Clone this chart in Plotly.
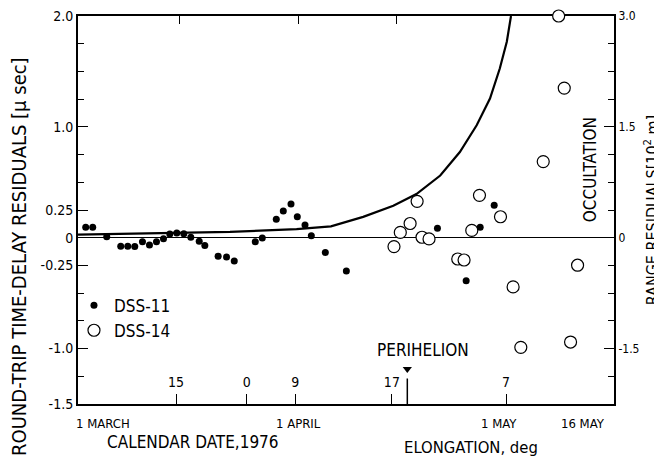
import plotly.graph_objects as go

# ---------------- data (x = days after 1 March 1976) ----------------
dss11_day = [0.6, 1.6, 3.6, 5.6, 6.6, 7.6, 8.7, 9.7, 10.7, 11.7, 12.6, 13.6, 14.6,
             15.6, 16.8, 17.6, 19.5, 20.7, 21.8, 24.8, 25.8, 27.8, 28.8, 29.9,
             30.8, 31.9, 32.8, 34.8, 37.8, 50.8, 54.9, 56.9, 58.9]
dss11_resid = [0.095, 0.095, 0.009, -0.077, -0.077, -0.080, -0.037, -0.066, -0.036,
               -0.009, 0.034, 0.043, 0.035, 0.005, -0.033, -0.070, -0.168, -0.174,
               -0.209, -0.037, -0.003, 0.167, 0.242, 0.303, 0.190, 0.115, 0.018,
               -0.134, -0.300, 0.086, -0.388, 0.094, 0.293]

dss14_day = [44.6, 45.5, 46.9, 47.9, 48.6, 49.6, 53.7, 54.6, 55.7, 56.8, 59.8,
             61.6, 62.7, 65.9, 68.1, 68.9, 69.8, 70.8]
dss14_resid = [-0.080, 0.048, 0.128, 0.328, 0.004, -0.011, -0.192, -0.201, 0.066,
               0.382, 0.189, -0.444, -0.989, 0.687, 2.0, 1.35, -0.941, -0.248]

model_day = [-0.5, 21.2, 30.7, 35.6, 40.2, 42.6, 44.5, 47.8, 51.2, 54.0, 56.4,
             58.3, 59.7, 60.7, 61.3]
model_resid = [0.027, 0.052, 0.078, 0.103, 0.188, 0.242, 0.288, 0.394, 0.561,
               0.773, 1.014, 1.256, 1.526, 1.768, 2.0]

left_tick_vals = [2.0, 1.0, 0.25, 0, -0.25, -1.0, -1.5]
left_tick_text = ["2.0", "1.0", "0.25", "0", "-0.25", "-1.0", "-1.5"]
left_minor_vals = [1.75, 1.5, 1.25, 0.75, 0.5, -0.5, -0.75, -1.25]
right_tick_vals = [3.0, 1.5, 0, -1.5]
right_tick_text = ["3.0", "1.5", "0", "-1.5"]
right_minor_vals = [2.625, 2.25, 1.875, 1.125, 0.75, 0.375, -0.375, -0.75,
                    -1.125, -1.875]

elong_tick_day = [13.5, 23.6, 30.5, 44.3, 60.6]
elong_tick_text = ["15", "0", "9", "17", "7"]

top_tick_day = [14, 31, 45]  # 15 March, 1 April, 15 April

date_label_day = [0, 31, 61, 76]
date_label_text = ["1 MARCH", "1 APRIL", "1 MAY", "16 MAY"]

perihelion_day = 46.5
perihelion_tick_top = -1.27
perihelion_arrow_level = -1.185

x_range = [-0.5, 76.0]
y_range = [-1.5, 2.0]
y2_range = [-2.25, 3.0]

FONT = "DejaVu Sans Condensed, DejaVu Sans, sans-serif"
BLACK = "black"

fig = go.Figure()

fig.add_trace(go.Scatter(
    x=model_day, y=model_resid, mode="lines",
    line=dict(color=BLACK, width=2.2), showlegend=False, hoverinfo="skip"))

fig.add_trace(go.Scatter(
    x=dss11_day, y=dss11_resid, mode="markers", name="DSS-11",
    marker=dict(symbol="circle", size=7, color=BLACK), cliponaxis=False))

fig.add_trace(go.Scatter(
    x=dss14_day, y=dss14_resid, mode="markers", name="DSS-14",
    marker=dict(symbol="circle", size=12, color="white",
                line=dict(color=BLACK, width=1.2)), cliponaxis=False))

# perihelion arrow head
fig.add_trace(go.Scatter(
    x=[perihelion_day], y=[perihelion_arrow_level], mode="markers",
    marker=dict(symbol="triangle-down", size=8, color=BLACK),
    showlegend=False, hoverinfo="skip", cliponaxis=False))

# invisible traces to activate the extra axes
fig.add_trace(go.Scatter(x=x_range, y=[None, None], xaxis="x2", yaxis="y",
                         showlegend=False, hoverinfo="skip"))
fig.add_trace(go.Scatter(x=x_range, y=[None, None], xaxis="x3", yaxis="y",
                         showlegend=False, hoverinfo="skip"))
fig.add_trace(go.Scatter(x=x_range, y=[None, None], xaxis="x", yaxis="y2",
                         showlegend=False, hoverinfo="skip"))

fig.add_shape(type="line", xref="x", yref="y",
              x0=perihelion_day, x1=perihelion_day, y0=y_range[0], y1=perihelion_tick_top,
              line=dict(color=BLACK, width=1.5))

tick_common = dict(ticks="inside", tickwidth=1.2, tickcolor=BLACK)

# the page body adds an 8px offset; margins compensate so the plot frame
# lands at x 78..614, y 16..404 in the window
fig.update_layout(
    width=662, height=461,
    margin=dict(l=70, r=56, t=8, b=65, autoexpand=False),
    paper_bgcolor="white", plot_bgcolor="white",
    font=dict(family=FONT, color=BLACK, size=14),
    # bottom frame with the elongation tick marks
    xaxis=dict(
        range=x_range, showgrid=False, zeroline=False, automargin=False,
        showline=True, linecolor=BLACK, linewidth=2, mirror=True,
        tickmode="array", tickvals=elong_tick_day, showticklabels=False,
        ticklen=10, layer="below traces", **tick_common),
    # top frame ticks (calendar)
    xaxis2=dict(
        range=x_range, overlaying="x", side="top", anchor="y", automargin=False,
        showgrid=False, zeroline=False, showline=False,
        tickmode="array", tickvals=top_tick_day, showticklabels=False,
        ticklen=8, **tick_common),
    # elongation labels, drawn just above the bottom frame
    xaxis3=dict(
        range=x_range, overlaying="x", side="bottom", anchor="free", position=0.082,
        automargin=False, showgrid=False, zeroline=False, showline=False,
        tickmode="array", tickvals=elong_tick_day, ticktext=elong_tick_text,
        ticks="", tickfont=dict(size=14, color=BLACK), ticklabeloverflow="allow"),
    yaxis=dict(
        range=y_range, showgrid=False, automargin=False,
        zeroline=True, zerolinecolor=BLACK, zerolinewidth=1.2,
        showline=True, linecolor=BLACK, linewidth=2,
        tickmode="array", tickvals=left_tick_vals, ticktext=left_tick_text,
        ticklen=10, tickfont=dict(size=14, color=BLACK), ticklabeloverflow="allow",
        minor=dict(tickmode="array", tickvals=left_minor_vals, ticklen=6, **tick_common),
        layer="below traces", **tick_common),
    yaxis2=dict(
        range=y2_range, overlaying="y", side="right", anchor="x", automargin=False,
        showgrid=False, zeroline=False,
        showline=True, linecolor=BLACK, linewidth=2,
        tickmode="array", tickvals=right_tick_vals, ticktext=right_tick_text,
        ticklen=10, tickfont=dict(size=12, color=BLACK), ticklabeloverflow="allow",
        minor=dict(tickmode="array", tickvals=right_minor_vals, ticklen=6, **tick_common),
        layer="below traces", **tick_common),
    legend=dict(x=-0.0075, y=0.30, xanchor="left", yanchor="top",
                bgcolor="rgba(0,0,0,0)", font=dict(size=17, color=BLACK),
                tracegroupgap=0, itemsizing="trace"),
    showlegend=True,
)

annotations = []
# date labels under the axis
date_anchor = ["left", "center", "center", "right"]
date_shift = [-8, 0, -10, -7]
for d, t, a, s in zip(date_label_day, date_label_text, date_anchor, date_shift):
    annotations.append(dict(x=d, xref="x", y=-0.049, yref="paper", text=t,
                            showarrow=False, xanchor=a, yanchor="middle", xshift=s,
                            font=dict(size=13)))
annotations += [
    dict(x=0.2146, y=-0.098, xref="paper", yref="paper", text="CALENDAR DATE,1976",
         showarrow=False, xanchor="center", yanchor="middle", font=dict(size=17)),
    dict(x=0.733, y=-0.113, xref="paper", yref="paper", text="ELONGATION, deg",
         showarrow=False, xanchor="center", yanchor="middle", font=dict(size=16.5)),
    dict(x=-0.110, y=0.379, xref="paper", yref="paper",
         text="ROUND-TRIP TIME-DELAY RESIDUALS [μ sec]", textangle=-90,
         showarrow=False, xanchor="center", yanchor="middle", font=dict(size=20)),
    dict(x=1.0695, y=0.5, xref="paper", yref="paper",
         text="RANGE RESIDUALS[10<sup>2</sup> m]", textangle=-90,
         showarrow=False, xanchor="center", yanchor="middle", font=dict(size=16)),
    dict(x=72.6, y=0.61, xref="x", yref="y", text="OCCULTATION", textangle=-90,
         showarrow=False, xanchor="center", yanchor="middle", font=dict(size=17)),
    dict(x=48.7, y=-1.01, xref="x", yref="y", text="PERIHELION",
         showarrow=False, xanchor="center", yanchor="middle", font=dict(size=17)),
]
fig.update_layout(annotations=annotations)

fig.write_html("out.html")
